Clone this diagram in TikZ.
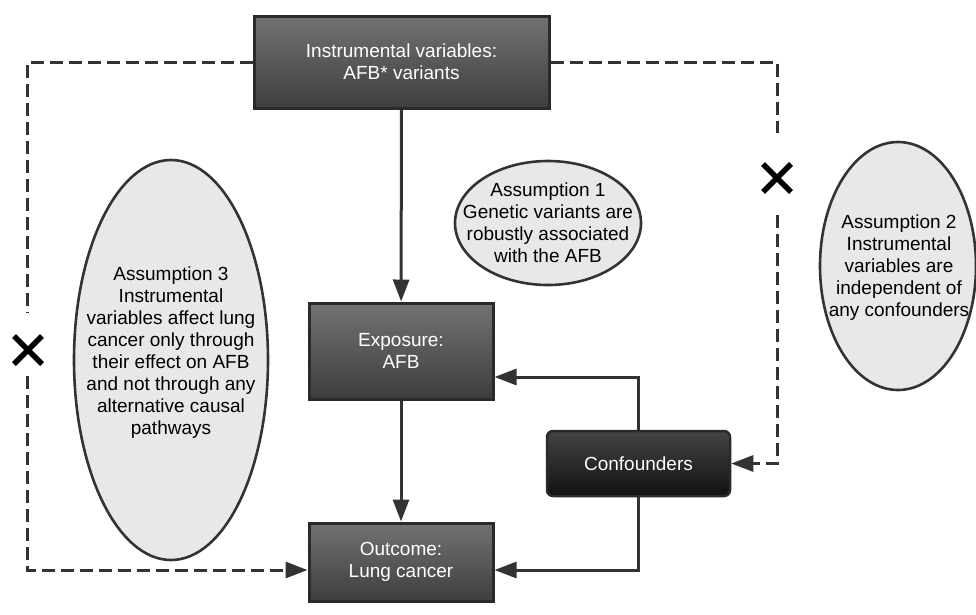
\documentclass[tikz,border=0pt]{standalone}
\usepackage{fontspec}
\setmainfont{Liberation Sans}
\usetikzlibrary{arrows.meta,shapes.geometric}
\definecolor{boxtop}{HTML}{727272}
\definecolor{boxbot}{HTML}{3E3E3E}
\definecolor{conftop}{HTML}{444444}
\definecolor{confbot}{HTML}{111111}
\definecolor{edge}{HTML}{2A2A2A}
\definecolor{linec}{HTML}{333333}
\definecolor{ellfill}{HTML}{E8E8E8}
\tikzset{
  boxnode/.style={rectangle, draw=edge, line width=3pt, top color=boxtop, bottom color=boxbot,
    text=white, align=center, font=\fontsize{19}{22}\selectfont, inner sep=0pt},
  confnode/.style={rectangle, rounded corners=6pt, draw=edge, line width=2.5pt, top color=conftop, bottom color=confbot,
    text=white, align=center, font=\fontsize{19}{22}\selectfont, inner sep=0pt},
  assum/.style={ellipse, draw=linec, line width=2.6pt, fill=ellfill, inner sep=0pt},
  atext/.style={align=center, font=\fontsize{19}{22}\selectfont, text=black, inner sep=0pt},
  tip/.style={-{Triangle[length=22pt,width=16pt]}},
  arr/.style={draw=linec, line width=3pt, tip},
  dsh/.style={draw=linec, line width=3pt, dash pattern=on 13pt off 6pt},
  cross/.style={draw=black, line width=5.5pt},
}
\begin{document}
\begin{tikzpicture}[x=1pt,y=-1pt]
\useasboundingbox (0,0) rectangle (976,614);
% ellipses
\node[assum, minimum width=194pt, minimum height=400pt] (a3) at (171,360) {};
\node[atext] (t3) at (171,353) {Assumption 3\\Instrumental\\variables affect lung\\cancer only through\\their effect on AFB\\and not through any\\alternative causal\\pathways};
\node[assum, minimum width=186pt, minimum height=124pt] (a1) at (548,223) {};
\node[atext] (t1) at (548,223) {Assumption 1\\Genetic variants are\\robustly associated\\with the AFB};
\node[assum, minimum width=156pt, minimum height=248pt] (a2) at (898,266) {};
\node[atext] (t2) at (899,268) {Assumption 2\\Instrumental\\variables are\\independent of\\any confounders};
% boxes
\node[boxnode, minimum width=295pt, minimum height=92pt] (iv) at (401.5,62) {Instrumental variables:\\AFB* variants};
\node[boxnode, minimum width=184pt, minimum height=96pt] (exp) at (401,351) {Exposure:\\AFB};
\node[boxnode, minimum width=184pt, minimum height=78pt] (out) at (401,562) {Outcome:\\Lung cancer};
\node[confnode, minimum width=183pt, minimum height=65pt] (conf) at (638.5,463.5) {Confounders};
% solid connectors
\draw[arr] (iv) -- (exp);
\draw[arr] (exp) -- (out);
\draw[arr] (conf.north) |- ([yshift=-26pt]exp.east);
\draw[arr] (conf.south) |- ([yshift=-8pt]out.west -| out.east);
% dashed connectors
\coordinate (l1) at (27,312);
\coordinate (l2) at (27,376);
\coordinate (r1) at (777,133);
\coordinate (r2) at (777,215);
\draw[dsh] (iv.west) -| (l1);
\draw[dsh, tip] (l2) |- ([yshift=-8pt]out.west);
\draw[dsh] (iv.east) -| (r1);
\draw[dsh, tip] (r2) |- (conf.east);
% crosses
\coordinate (x1) at (28,350);
\coordinate (x2) at (777,178);
\draw[cross] ([shift={(-14,-14)}]x1) -- ([shift={(14,14)}]x1);
\draw[cross] ([shift={(-14,14)}]x1) -- ([shift={(14,-14)}]x1);
\draw[cross] ([shift={(-14,-14)}]x2) -- ([shift={(14,14)}]x2);
\draw[cross] ([shift={(-14,14)}]x2) -- ([shift={(14,-14)}]x2);
\end{tikzpicture}
\end{document}
